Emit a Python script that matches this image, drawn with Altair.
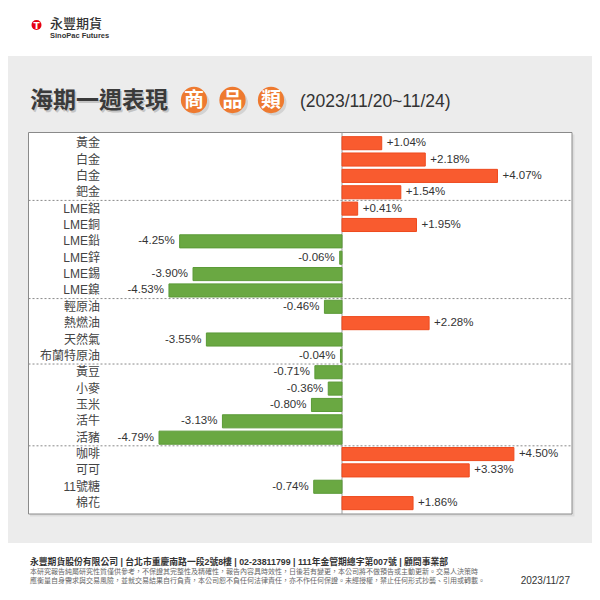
import altair as alt
import pandas as pd

# ---------------- data ----------------
categories = ["黃金", "白金", "白金", "鈀金",
              "LME鋁", "LME銅", "LME鉛", "LME鋅", "LME錫", "LME鎳",
              "輕原油", "熱燃油", "天然氣", "布蘭特原油",
              "黃豆", "小麥", "玉米", "活牛", "活豬",
              "咖啡", "可可", "11號糖", "棉花"]
values = [1.04, 2.18, 4.07, 1.54,
          0.41, 1.95, -4.25, -0.06, -3.90, -4.53,
          -0.46, 2.28, -3.55, -0.04,
          -0.71, -0.36, -0.80, -3.13, -4.79,
          4.50, 3.33, -0.74, 1.86]
group_sizes = [4, 6, 4, 5, 4]

title_main = "海期一週表現"
title_badges = ["商", "品", "類"]
title_period = "(2023/11/20~11/24)"
logo_cn = "永豐期貨"
logo_en = "SinoPac Futures"
footer_1 = "永豐期貨股份有限公司 | 台北市重慶南路一段2號8樓 | 02-23811799 | 111年金管期總字第007號 | 顧問事業部"
footer_2 = "本研究報告純屬研究性質僅供參考，不保證其完整性及精確性，報告內容具時效性，日後若有變更，本公司將不做預告或主動更新。交易人決策時"
footer_3 = "應衡量自身需求與交易風險，並就交易結果自行負責，本公司恕不負任何法律責任，亦不作任何保證。未經授權，禁止任何形式抄襲、引用或轉載。"
footer_date = "2023/11/27"

df = pd.DataFrame({
    "idx": list(range(len(categories))),
    "name": categories,
    "value": values,
    "label": [f"{v:+.2f}%" for v in values],
})
sep_idx = []
acc = 0
for g in group_sizes[:-1]:
    acc += g
    sep_idx.append(acc - 1)

FONT = "Liberation Sans, Noto Sans CJK TC"
CJK = "Noto Sans CJK TC"

xscale = alt.Scale(domain=[-5, 5], range=[143, 525])
yscale = alt.Scale(domain=list(range(len(categories))), range=[127, 503.3],
                   paddingInner=0.2, paddingOuter=0.1)


def one(**kw):
    d = {"k": 1}
    d.update(kw)
    return alt.Data(values=[d])


X = alt.X("value:Q", scale=xscale, axis=None)
Y = alt.Y("idx:O", scale=yscale, axis=None)

# ---------------- decoration ----------------
bg = alt.Chart(one()).mark_rect(color="#ececec").encode(
    x=alt.value(0), x2=alt.value(584), y=alt.value(48), y2=alt.value(535))
box_shadow = alt.Chart(one()).mark_rect(color="#dcdcdc").encode(
    x=alt.value(22), x2=alt.value(566.5), y=alt.value(126.5), y2=alt.value(508.5))
box = alt.Chart(one()).mark_rect(fill="white", stroke="#8a8a8a", strokeWidth=1).encode(
    x=alt.value(20.5), x2=alt.value(564), y=alt.value(124.5), y2=alt.value(506))

seps = alt.Chart(df).transform_filter(
    alt.FieldOneOfPredicate(field="idx", oneOf=sep_idx)
).mark_rule(color="#8a8a8a", strokeDash=[2, 2], strokeWidth=1, yOffset=1.6).encode(
    y=alt.Y("idx:O", scale=yscale, axis=None, bandPosition=1),
    x=alt.value(20.5), x2=alt.value(564))

zero = alt.Chart(one(z=0)).mark_rule(color="#9a9a9a", strokeWidth=1).encode(
    x=alt.X("z:Q", scale=xscale, axis=None), y=alt.value(124.5), y2=alt.value(506))

# ---------------- bars & labels ----------------
bars = alt.Chart(df).mark_bar(strokeWidth=1).encode(
    x=X, y=Y,
    color=alt.condition("datum.value > 0", alt.value("#F95B2F"), alt.value("#6AA842")),
    stroke=alt.condition("datum.value > 0", alt.value("#EE4A1E"), alt.value("#5B9A37")),
)
pos_lab = alt.Chart(df).transform_filter("datum.value > 0").mark_text(
    align="left", dx=5, fontSize=11.5, font=FONT, color="#333333").encode(
    x=X, y=Y, text="label:N")
neg_lab = alt.Chart(df).transform_filter("datum.value <= 0").mark_text(
    align="right", dx=-5, fontSize=11.5, font=FONT, color="#333333").encode(
    x=X, y=Y, text="label:N")
cat_lab = alt.Chart(df).mark_text(
    align="right", fontSize=12, font=FONT, color="#444444").encode(
    x=alt.value(92), y=Y, text="name:N")

# ---------------- header ----------------
logo_dot = alt.Chart(one()).mark_circle(color="#E60012", opacity=1, size=100).encode(
    x=alt.value(28.5), y=alt.value(17))
logo_mark = alt.Chart(one()).mark_text(text="T", color="white", fontSize=9, fontWeight="bold",
                                       font="DejaVu Sans").encode(x=alt.value(28.5), y=alt.value(17.5))
logo_t1 = alt.Chart(one()).mark_text(text=logo_cn, align="left", fontSize=13, font=CJK,
                                     fontWeight=500, color="#333333").encode(
    x=alt.value(42), y=alt.value(16))
logo_t2 = alt.Chart(one()).mark_text(text=logo_en, align="left", fontSize=7.5, font="Liberation Sans",
                                     fontWeight="bold", color="#333333").encode(
    x=alt.value(42), y=alt.value(28))

title_sh = alt.Chart(one()).mark_text(text=title_main, align="left", fontSize=23, font=CJK,
                                      fontWeight="bold", color="#c4c4c4").encode(
    x=alt.value(23.5), y=alt.value(94.5))
title = alt.Chart(one()).mark_text(text=title_main, align="left", fontSize=23, font=CJK,
                                   fontWeight="bold", color="#3a3a3a").encode(
    x=alt.value(22), y=alt.value(93))

badge_layers = []
for i, ch in enumerate(title_badges):
    cx = 186 + i * 38.5
    badge_layers.append(alt.Chart(one()).mark_circle(color="#b9b9b9", opacity=0.5, size=620).encode(
        x=alt.value(cx + 3), y=alt.value(95)))
for i, ch in enumerate(title_badges):
    cx = 186 + i * 38.5
    badge_layers.append(alt.Chart(one()).mark_circle(color="#EE7A30", opacity=1, size=690).encode(
        x=alt.value(cx), y=alt.value(92)))
    badge_layers.append(alt.Chart(one()).mark_text(text=ch, fontSize=20, font=CJK, fontWeight="bold",
                                                   color="white").encode(
        x=alt.value(cx), y=alt.value(92.5)))

period = alt.Chart(one()).mark_text(text=title_period, align="left", fontSize=17.5, font=FONT,
                                    color="#333333").encode(x=alt.value(292), y=alt.value(94))

# ---------------- footer ----------------
f1 = alt.Chart(one()).mark_text(text=footer_1, align="left", fontSize=8.8, font=FONT,
                                fontWeight="bold", color="#333333").encode(
    x=alt.value(22), y=alt.value(554))
f2 = alt.Chart(one()).mark_text(text=footer_2, align="left", fontSize=7, font=FONT,
                                color="#666666").encode(x=alt.value(22), y=alt.value(564))
f3 = alt.Chart(one()).mark_text(text=footer_3, align="left", fontSize=7, font=FONT,
                                color="#666666").encode(x=alt.value(22), y=alt.value(573))
fdate = alt.Chart(one()).mark_text(text=footer_date, align="right", fontSize=10, font=FONT,
                                   color="#333333").encode(x=alt.value(562), y=alt.value(573))

chart = alt.layer(
    bg, box_shadow, box, seps, zero, bars, pos_lab, neg_lab, cat_lab,
    logo_dot, logo_mark, logo_t1, logo_t2, title_sh, title, *badge_layers, period,
    f1, f2, f3, fdate,
).properties(
    width=584, height=584, padding=0,
    autosize=alt.AutoSizeParams(type="none"),
    background="white",
).configure_view(stroke=None)

chart.save("out.html", embed_options={"renderer": "svg", "actions": False})
